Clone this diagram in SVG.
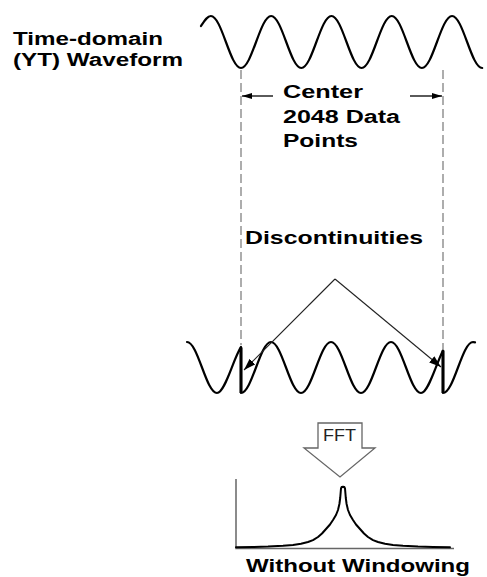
<svg xmlns="http://www.w3.org/2000/svg" width="487" height="577" viewBox="0 0 487 577">
<style>
.lbl{font-family:"Liberation Sans",Arial,sans-serif;font-weight:bold;font-size:18px;fill:#000}
.wave{fill:none;stroke:#000;stroke-width:2.2;stroke-linejoin:round;stroke-linecap:round}
.dash{stroke:#777;stroke-width:1.2;stroke-dasharray:9 4;fill:none}
.harr{stroke:#000;stroke-width:1.3;fill:none}
.darr{stroke:#222;stroke-width:1.1;fill:none}
</style>
<defs>
<marker id="ah" viewBox="0 0 10 6" refX="10" refY="3" markerWidth="10" markerHeight="6" orient="auto" markerUnits="userSpaceOnUse">
<path d="M0,0 L10,3 L0,6 z" fill="#000"/>
</marker>
<marker id="ad" viewBox="0 0 12 8" refX="12" refY="4" markerWidth="12" markerHeight="8" orient="auto" markerUnits="userSpaceOnUse">
<path d="M0,0 L12,4 L0,8 z" fill="#000"/>
</marker>
</defs>
<rect width="487" height="577" fill="#fff"/>

<g id="time-domain-label">
<text class="lbl" x="13" y="45" textLength="150" lengthAdjust="spacingAndGlyphs">Time-domain</text>
<text class="lbl" x="13" y="66" textLength="170" lengthAdjust="spacingAndGlyphs">(YT) Waveform</text>
</g>

<g id="top-waveform">
<path class="wave" d="M201,26 C205,20 207.5,16 210.85,16 C221.83,16 230.02,68 241,68 S260.17,16 271.15,16 S290.32,68 301.3,68 S320.47,16 331.45,16 S350.62,68 361.6,68 S380.77,16 391.75,16 S410.92,68 421.9,68 S441.07,16 452.05,16 S471.22,68 482.2,68"/>
</g>

<g id="center-label">
<text class="lbl" x="283" y="98" textLength="80" lengthAdjust="spacingAndGlyphs">Center</text>
<text class="lbl" x="283" y="123" textLength="117" lengthAdjust="spacingAndGlyphs">2048 Data</text>
<text class="lbl" x="283" y="147" textLength="75" lengthAdjust="spacingAndGlyphs">Points</text>
</g>

<g id="discontinuities-label">
<text class="lbl" x="245" y="244" textLength="178" lengthAdjust="spacingAndGlyphs">Discontinuities</text>
</g>

<g id="bottom-waveform">
<path class="wave" d="M187,342 C197.93,342 206.07,393 217,393 C225,393 233,359.5 241,346.9 L241,393 C251.93,393 260.07,342 271,342 S290.07,393 301,393 S320.07,342 331,342 S350.07,393 361,393 S380.07,342 391,342 S410.07,393 421,393 C428.3,393 435.7,364.9 443,350.4 L443,393 C453.93,393 462.07,342 473,342 L475,342.3"/>
<path d="M241,347.5 L241,393 M443,350.5 L443,393" stroke="#000" stroke-width="3" fill="none"/>
</g>

<g id="fft-arrow">
<polygon points="318,423 362,423 362,448 375,448 340,477 304,448 318,448" fill="#fff" stroke="#666" stroke-width="1.3" stroke-linejoin="miter"/>
<text x="323" y="441" font-family="'Liberation Sans',Arial,sans-serif" font-size="16.5" fill="#222" textLength="33" lengthAdjust="spacingAndGlyphs">FFT</text>
</g>

<g id="spectrum">
<path d="M236,479 L236,548.5 L454,548.5" fill="none" stroke="#666" stroke-width="1.5"/>
<polyline fill="none" stroke="#000" stroke-width="2" stroke-linejoin="round" stroke-linecap="round" points="236,547.3 253,547 268,546.6 283,545.8 293,544.9 301,543.7 308,542 313,540.1 318,537 322,533.5 326,529 330,524.5 333,520 336,515 338,510 339.4,504 340.2,498 340.7,492 341,488.5 341.6,487.1 343,486.8 344.4,487.1 345,488.5 345.3,492 345.8,498 346.6,504 348,510 350,515 353,520 356,524.5 360,529 364,533.5 368,537 373,540.1 378,542 385,543.7 393,544.9 403,545.8 418,546.6 433,547 450,547.3"/>
</g>

<g id="without-windowing-label">
<text class="lbl" x="246" y="572" textLength="224" lengthAdjust="spacingAndGlyphs">Without Windowing</text>
</g>

<g id="connectors">
<line class="dash" x1="241" y1="70" x2="241" y2="345"/>
<line class="dash" x1="443" y1="70" x2="443" y2="349"/>
<line class="harr" x1="273" y1="96" x2="242" y2="96" marker-end="url(#ah)"/>
<line class="harr" x1="410" y1="96" x2="442" y2="96" marker-end="url(#ah)"/>
<line class="darr" x1="335" y1="279" x2="244" y2="370" marker-end="url(#ad)"/>
<line class="darr" x1="335" y1="279" x2="441" y2="367" marker-end="url(#ad)"/>
</g>
</svg>
